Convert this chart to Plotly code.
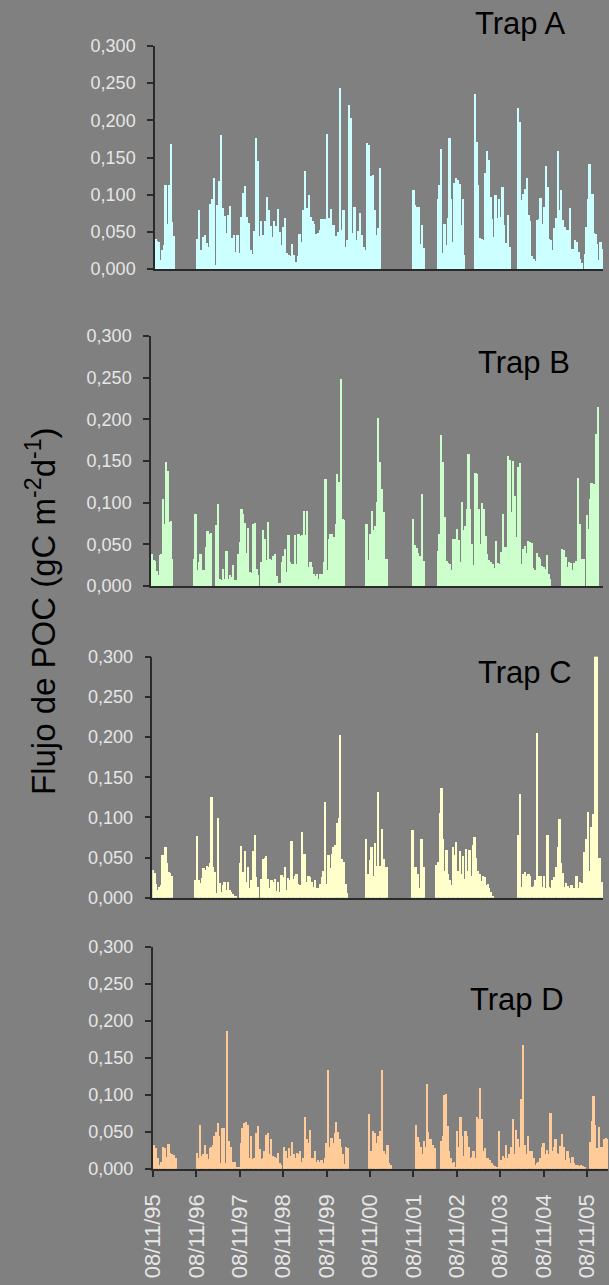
import plotly.graph_objects as go
import pandas as pd

# ---------------- data ----------------
tick_dates = ["1995-11-08", "1996-11-08", "1997-11-08", "1998-11-08", "1999-11-08",
              "2000-11-08", "2001-11-08", "2002-11-08", "2003-11-08", "2004-11-08", "2005-11-08"]
tick_labels = ["08/11/95", "08/11/96", "08/11/97", "08/11/98", "08/11/99",
               "08/11/00", "08/11/01", "08/11/02", "08/11/03", "08/11/04", "08/11/05"]

# Trap A: deployments (first, last sample date) and fluxes
trap_a_periods = [("1995-12-01", "1996-05-05"), ("1996-11-18", "2001-02-01"),
                  ("2001-11-10", "2002-02-06"), ("2002-06-04", "2003-01-12"),
                  ("2003-04-09", "2004-01-28"), ("2004-04-08", "2005-09-28"),
                  ("2005-10-21", "2006-03-30")]
trap_a_values = [
    [0.040, 0.038, 0.036, 0.012, 0.025, 0.032, 0.113, 0.060, 0.113, 0.168, 0.063, 0.045],
    [0.040, 0.080, 0.025, 0.043, 0.046, 0.035, 0.030, 0.088, 0.094, 0.123, 0.005, 0.086,
     0.118, 0.180, 0.082, 0.071, 0.048, 0.072, 0.085, 0.042, 0.046, 0.023, 0.046, 0.022,
     0.070, 0.102, 0.111, 0.070, 0.062, 0.026, 0.020, 0.051, 0.176, 0.145, 0.044, 0.064,
     0.046, 0.065, 0.097, 0.080, 0.058, 0.043, 0.065, 0.058, 0.081, 0.050, 0.032, 0.057,
     0.068, 0.022, 0.019, 0.017, 0.033, 0.019, 0.010, 0.017, 0.047, 0.037, 0.079, 0.132,
     0.082, 0.099, 0.070, 0.065, 0.060, 0.047, 0.049, 0.053, 0.067, 0.067, 0.067, 0.181,
     0.068, 0.081, 0.059, 0.059, 0.045, 0.050, 0.243, 0.052, 0.079, 0.030, 0.039, 0.221,
     0.203, 0.048, 0.083, 0.039, 0.051, 0.075, 0.046, 0.030, 0.026, 0.169, 0.167, 0.125,
     0.126, 0.080, 0.046, 0.055, 0.136],
    [0.106, 0.086, 0.084, 0.083, 0.034, 0.059, 0.028],
    [0.094, 0.113, 0.162, 0.022, 0.061, 0.032, 0.068, 0.176, 0.094, 0.037, 0.116, 0.122,
     0.120, 0.115, 0.059, 0.094, 0.019],
    [0.236, 0.171, 0.113, 0.042, 0.040, 0.039, 0.129, 0.159, 0.146, 0.097, 0.067, 0.043,
     0.099, 0.068, 0.094, 0.070, 0.110, 0.059, 0.035, 0.073, 0.029],
    [0.217, 0.198, 0.093, 0.101, 0.108, 0.122, 0.073, 0.064, 0.017, 0.014, 0.011, 0.066,
     0.067, 0.096, 0.061, 0.084, 0.138, 0.110, 0.041, 0.039, 0.026, 0.055, 0.069, 0.159,
     0.079, 0.106, 0.066, 0.056, 0.053, 0.052, 0.082, 0.027, 0.027, 0.039, 0.037, 0.023,
     0.014, 0.008],
    [0.020, 0.057, 0.094, 0.141, 0.057, 0.101, 0.048, 0.047, 0.034, 0.012, 0.037, 0.027, 0.059],
]

trap_b_periods = [("1995-11-04", "1996-04-20"), ("1996-10-19", "1997-03-10"),
                  ("1997-04-26", "1998-04-14"), ("1998-05-12", "2000-04-05"),
                  ("2000-10-12", "2001-03-30"), ("2001-11-05", "2002-02-04"),
                  ("2002-06-04", "2005-01-05"), ("2005-04-12", "2005-10-13"),
                  ("2005-11-07", "2006-02-08")]
trap_b_values = [
    [0.039, 0.031, 0.030, 0.018, 0.013, 0.037, 0.038, 0.104, 0.075, 0.149, 0.138, 0.077,
     0.078, 0.033],
    [0.032, 0.086, 0.019, 0.029, 0.039, 0.019, 0.019, 0.047, 0.066, 0.063, 0.064],
    [0.073, 0.098, 0.009, 0.007, 0.021, 0.009, 0.042, 0.008, 0.013, 0.011, 0.025, 0.007,
     0.007, 0.039, 0.053, 0.092, 0.086, 0.076, 0.040, 0.070, 0.017, 0.016, 0.075, 0.076,
     0.020, 0.013],
    [0.029, 0.067, 0.056, 0.031, 0.077, 0.033, 0.031, 0.036, 0.038, 0.012, 0.004, 0.004,
     0.029, 0.036, 0.044, 0.017, 0.061, 0.029, 0.026, 0.027, 0.061, 0.026, 0.063, 0.060,
     0.061, 0.090, 0.061, 0.090, 0.023, 0.029, 0.023, 0.014, 0.012, 0.014, 0.009, 0.014,
     0.014, 0.029, 0.128, 0.019, 0.056, 0.063, 0.062, 0.059, 0.075, 0.135, 0.125, 0.249,
     0.081, 0.079],
    [0.074, 0.031, 0.062, 0.090, 0.067, 0.072, 0.101, 0.202, 0.149, 0.116, 0.089, 0.032, 0.033],
    [0.081, 0.049, 0.046, 0.040, 0.036, 0.111, 0.030],
    [0.042, 0.062, 0.181, 0.149, 0.083, 0.030, 0.028, 0.027, 0.019, 0.056, 0.057, 0.068,
     0.055, 0.029, 0.101, 0.067, 0.072, 0.093, 0.158, 0.093, 0.051, 0.025, 0.136, 0.135,
     0.093, 0.050, 0.100, 0.093, 0.060, 0.039, 0.031, 0.029, 0.026, 0.022, 0.054, 0.028,
     0.027, 0.041, 0.087, 0.047, 0.047, 0.156, 0.151, 0.089, 0.150, 0.108, 0.059, 0.143,
     0.148, 0.027, 0.045, 0.048, 0.040, 0.054, 0.053, 0.052, 0.022, 0.019, 0.040, 0.035,
     0.033, 0.024, 0.023, 0.020, 0.037, 0.015, 0.008],
    [0.044, 0.043, 0.035, 0.023, 0.029, 0.028, 0.019, 0.028, 0.030, 0.130, 0.075, 0.033, 0.033],
    [0.085, 0.069, 0.105, 0.124, 0.085, 0.122, 0.183, 0.215],
]

trap_c_periods = [("1995-11-12", "1996-04-20"), ("1996-11-02", "1997-10-11"),
                  ("1997-11-11", "1998-04-14"), ("1998-05-12", "2000-05-03"),
                  ("2000-10-12", "2001-04-02"), ("2001-11-05", "2002-02-04"),
                  ("2002-05-26", "2003-09-10"), ("2004-04-13", "2005-09-29"),
                  ("2005-10-21", "2006-03-30")]
trap_c_values = [
    [0.035, 0.031, 0.018, 0.010, 0.014, 0.016, 0.053, 0.025, 0.063, 0.044, 0.032, 0.031, 0.027],
    [0.022, 0.077, 0.022, 0.019, 0.025, 0.037, 0.035, 0.040, 0.038, 0.044, 0.126, 0.039,
     0.032, 0.006, 0.099, 0.019, 0.007, 0.016, 0.020, 0.010, 0.020, 0.010, 0.007, 0.005,
     0.003, 0.002],
    [0.043, 0.065, 0.032, 0.058, 0.020, 0.039, 0.013, 0.022, 0.058, 0.078, 0.026, 0.014],
    [0.024, 0.049, 0.050, 0.052, 0.024, 0.013, 0.022, 0.020, 0.024, 0.009, 0.020, 0.007,
     0.029, 0.026, 0.039, 0.010, 0.025, 0.022, 0.071, 0.024, 0.027, 0.030, 0.018, 0.016,
     0.082, 0.055, 0.055, 0.020, 0.027, 0.026, 0.020, 0.014, 0.022, 0.013, 0.012, 0.018,
     0.026, 0.034, 0.119, 0.018, 0.053, 0.037, 0.055, 0.063, 0.066, 0.093, 0.100, 0.203,
     0.048, 0.045, 0.018, 0.006],
    [0.073, 0.030, 0.047, 0.063, 0.027, 0.068, 0.040, 0.132, 0.040, 0.086, 0.048, 0.038, 0.038],
    [0.085, 0.039, 0.039, 0.030, 0.012, 0.073, 0.039],
    [0.041, 0.045, 0.106, 0.137, 0.074, 0.034, 0.060, 0.030, 0.022, 0.016, 0.063, 0.053,
     0.070, 0.034, 0.058, 0.030, 0.052, 0.024, 0.061, 0.034, 0.060, 0.028, 0.066, 0.076,
     0.050, 0.034, 0.030, 0.021, 0.028, 0.026, 0.016, 0.018, 0.013, 0.007, 0.003],
    [0.079, 0.129, 0.014, 0.030, 0.032, 0.028, 0.030, 0.028, 0.014, 0.015, 0.022, 0.205,
     0.028, 0.027, 0.014, 0.027, 0.012, 0.079, 0.014, 0.012, 0.022, 0.026, 0.039, 0.064,
     0.098, 0.044, 0.031, 0.014, 0.019, 0.015, 0.012, 0.016, 0.012, 0.013, 0.028, 0.012,
     0.020, 0.019],
    [0.057, 0.073, 0.107, 0.033, 0.089, 0.104, 0.305, 0.305, 0.050, 0.050, 0.020, 0.020],
]

trap_d_periods = [("1995-11-18", "1996-05-13"), ("1996-11-11", "1997-11-07"),
                  ("1997-11-16", "1998-10-20"), ("1998-11-11", "2000-05-03"),
                  ("2000-10-31", "2001-05-03"), ("2001-11-28", "2002-05-02"),
                  ("2002-06-27", "2003-10-06"), ("2003-10-30", "2005-10-16"),
                  ("2005-12-02", "2006-04-27")]
trap_d_values = [
    [0.032, 0.028, 0.015, 0.006, 0.009, 0.030, 0.028, 0.016, 0.034, 0.022, 0.020, 0.019, 0.015],
    [0.021, 0.015, 0.060, 0.017, 0.020, 0.033, 0.020, 0.013, 0.028, 0.030, 0.032, 0.045,
     0.050, 0.062, 0.045, 0.008, 0.055, 0.055, 0.008, 0.186, 0.038, 0.030, 0.010, 0.009,
     0.009, 0.002, 0.002, 0.003],
    [0.035, 0.055, 0.062, 0.063, 0.060, 0.015, 0.045, 0.014, 0.015, 0.048, 0.058, 0.027,
     0.013, 0.015, 0.025, 0.046, 0.048, 0.020, 0.040, 0.017, 0.016, 0.015, 0.022, 0.008, 0.005],
    [0.030, 0.025, 0.015, 0.028, 0.018, 0.036, 0.020, 0.015, 0.022, 0.020, 0.025, 0.010,
     0.015, 0.070, 0.040, 0.035, 0.053, 0.015, 0.015, 0.025, 0.010, 0.012, 0.010, 0.012,
     0.008, 0.015, 0.035, 0.134, 0.030, 0.042, 0.035, 0.048, 0.064, 0.050, 0.040, 0.030,
     0.020, 0.007, 0.030, 0.028],
    [0.075, 0.025, 0.052, 0.048, 0.035, 0.045, 0.052, 0.134, 0.025, 0.020, 0.033, 0.008, 0.005],
    [0.060, 0.043, 0.037, 0.030, 0.020, 0.038, 0.030, 0.115, 0.050, 0.040, 0.040, 0.032, 0.028],
    [0.038, 0.045, 0.100, 0.102, 0.058, 0.025, 0.015, 0.008, 0.010, 0.003, 0.052, 0.030,
     0.070, 0.045, 0.018, 0.052, 0.045, 0.030, 0.015, 0.016, 0.025, 0.015, 0.070, 0.068,
     0.110, 0.068, 0.025, 0.028, 0.015, 0.015, 0.012, 0.008, 0.005, 0.004, 0.003],
    [0.052, 0.012, 0.018, 0.015, 0.032, 0.015, 0.020, 0.030, 0.068, 0.020, 0.053, 0.040,
     0.030, 0.095, 0.167, 0.033, 0.020, 0.045, 0.025, 0.024, 0.015, 0.005, 0.008, 0.010,
     0.015, 0.030, 0.035, 0.020, 0.026, 0.020, 0.076, 0.025, 0.030, 0.040, 0.022, 0.020,
     0.031, 0.047, 0.030, 0.012, 0.024, 0.015, 0.008, 0.016, 0.008, 0.005, 0.006, 0.004,
     0.005, 0.004, 0.002],
    [0.036, 0.065, 0.099, 0.060, 0.028, 0.057, 0.030, 0.030, 0.040, 0.042, 0.040],
]

trap_names = ["Trap A", "Trap B", "Trap C", "Trap D"]
trap_colors = ["#CCFFFF", "#CCFFCC", "#FFFFCC", "#FFCC99"]

# ---------------- layout helpers ----------------
W, H = 609, 1285
BASE = pd.Timestamp("1995-11-08")
DAYS_PER_PX = 365.25 / 43.4


def px_date(px):
    return BASE + pd.Timedelta(days=(px - 153) * DAYS_PER_PX)


# panel boxes in pixels: (left, right, top, bottom)
panels = [(155, 603, 46, 269), (151, 603, 336, 586),
          (152.3, 603, 656.7, 897.7), (152.6, 608, 946.7, 1168.7)]
label_pos = [(520, 23), (524, 362), (525, 672), (517, 999.5)]

all_periods = [trap_a_periods, trap_b_periods, trap_c_periods, trap_d_periods]
all_values = [trap_a_values, trap_b_values, trap_c_values, trap_d_values]

fig = go.Figure()
TICK_FONT = dict(family="Liberation Sans, Arial, sans-serif", size=18, color="#e6e6e6")
LINE_COL = "#2a2a2a"

for i in range(4):
    xs, ys = [], []
    for (start, end), vals in zip(all_periods[i], all_values[i]):
        dates = pd.date_range(start, end, periods=len(vals))
        xs.extend(list(dates))
        ys.extend(vals)
    suffix = "" if i == 0 else str(i + 1)
    fig.add_trace(go.Bar(
        x=xs, y=ys, xaxis="x" + suffix, yaxis="y" + suffix,
        marker=dict(color=trap_colors[i], line=dict(width=0)),
        width=15 * 86400000, showlegend=False, hoverinfo="x+y",
    ))
    l, r, t, b = panels[i]
    xa = dict(domain=[l / W, r / W], range=[px_date(l), px_date(r)], type="date",
              anchor="y" + suffix, showline=True, linecolor=LINE_COL, linewidth=1.5,
              showgrid=False, zeroline=False, fixedrange=True, automargin=False)
    if i == 3:
        xa.update(tickmode="array", tickvals=tick_dates, ticktext=tick_labels,
                  tickangle=-90, ticks="outside", ticklen=7, tickcolor=LINE_COL,
                  tickwidth=1.5, tickfont=dict(TICK_FONT, size=22),
                  ticklabelstandoff=8)
    else:
        xa.update(showticklabels=False, ticks="")
    ya = dict(domain=[1 - b / H, 1 - t / H], range=[0, 0.3], anchor="x" + suffix,
              tickmode="linear", tick0=0, dtick=0.05, tickformat=".3f",
              showline=True, linecolor=LINE_COL, linewidth=1.5, ticks="outside",
              ticklen=6, tickcolor=LINE_COL, tickwidth=1.5, tickfont=TICK_FONT,
              showgrid=False, zeroline=False, fixedrange=True, ticklabelstandoff=8,
              automargin=False)
    fig.update_layout(**{"xaxis" + suffix: xa, "yaxis" + suffix: ya})
    lx, ly = label_pos[i]
    fig.add_annotation(text=trap_names[i], x=lx / W, y=1 - ly / H, xref="paper", yref="paper",
                       showarrow=False, xanchor="center", yanchor="middle",
                       font=dict(family="Liberation Sans, Arial, sans-serif", size=31, color="#000000"))

fig.add_annotation(text="Flujo de POC (gC m<sup>-2</sup>d<sup>-1</sup>)",
                   x=41 / W, y=1 - 611 / H, xref="paper", yref="paper", textangle=-90,
                   showarrow=False, xanchor="center", yanchor="middle",
                   font=dict(family="Liberation Sans, Arial, sans-serif", size=33, color="#000000"))

fig.update_layout(width=W, height=H, autosize=False,
                  margin=dict(l=0, r=0, t=0, b=0, pad=0),
                  paper_bgcolor="#808080", plot_bgcolor="#808080",
                  separators=",.", bargap=0, showlegend=False)

fig.write_html("out.html", config={"displayModeBar": False},
               post_script="document.body.style.margin='0px';"
                           "document.body.style.overflow='hidden';"
                           "document.body.style.background='#808080';")
